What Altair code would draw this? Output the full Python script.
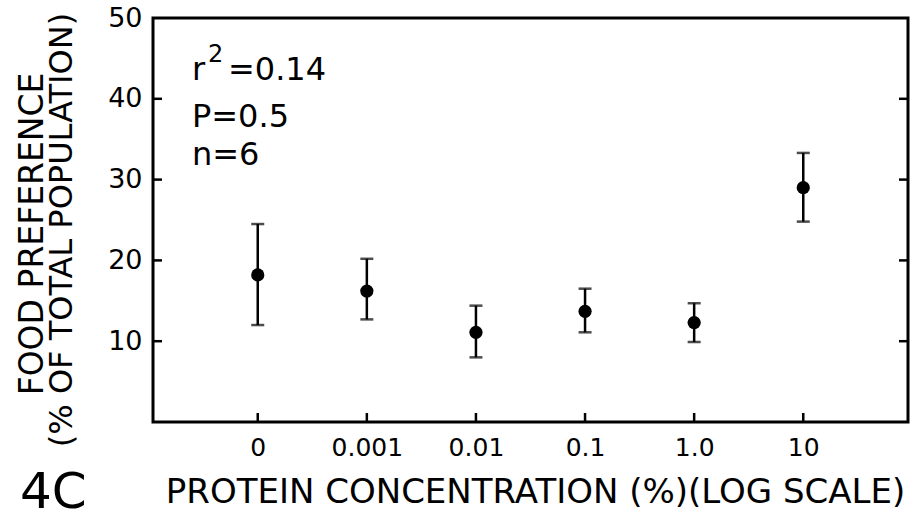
import altair as alt
import pandas as pd

# ---- data ----
conc = ["0", "0.001", "0.01", "0.1", "1.0", "10"]
mean = [18.2, 16.2, 11.1, 13.7, 12.3, 29.0]
upper = [24.5, 20.2, 14.4, 16.5, 14.7, 33.3]
lower = [12.0, 12.7, 8.0, 11.1, 9.9, 24.8]
y_tick_values = [10, 20, 30, 40]
y_label_values = [10, 20, 30, 40, 50]
y_title_lines = ["FOOD PREFERENCE", "(% OF TOTAL POPULATION)"]

df = pd.DataFrame({"conc": conc, "mean": mean, "upper": upper, "lower": lower})
ticks_df = pd.DataFrame({"v": y_tick_values})
one = pd.DataFrame({"k": [0]})

W, H = 755, 404
FONT = "DejaVu Sans"

x_axis = alt.Axis(
    title="PROTEIN CONCENTRATION (%)(LOG SCALE)",
    labelAngle=0, ticks=False, tickSize=0, domain=False, grid=False,
    labelFont=FONT, labelFontSize=25, labelPadding=13, labelColor="black",
    titleFont=FONT, titleFontSize=34, titleFontWeight="normal", titleColor="black",
    titleX=382, titleY=80, titleAlign="center", titleBaseline="alphabetic",
)
y_axis = alt.Axis(
    title=None,
    values=y_label_values, ticks=False, tickSize=0, domain=False, grid=False,
    labelFont=FONT, labelFontSize=27, labelPadding=11, labelColor="black",
)
x_scale = alt.Scale(type="point", padding=0.96)
y_scale = alt.Scale(domain=[0, 50], nice=False, zero=True)

def X(field="conc"):
    return alt.X(f"{field}:N", sort=conc, scale=x_scale, axis=x_axis)

def Y(field):
    return alt.Y(f"{field}:Q", scale=y_scale, axis=y_axis)

base = alt.Chart(df)

bars = base.mark_rule(color="black", strokeWidth=2.5).encode(
    x=X(), y=Y("lower"), y2="upper:Q"
)
caps = base.transform_fold(["upper", "lower"], as_=["which", "val"]).mark_tick(
    color="black", size=13, thickness=2.5, orient="horizontal"
).encode(x=X(), y=Y("val"))
points = base.mark_circle(color="black", opacity=1, size=175).encode(
    x=X(), y=Y("mean")
)

left_ticks = alt.Chart(ticks_df).mark_rule(color="black", strokeWidth=2.5).encode(
    y=Y("v"), x=alt.value(0), x2=alt.value(9)
)
right_ticks = alt.Chart(ticks_df).mark_rule(color="black", strokeWidth=2.5).encode(
    y=Y("v"), x=alt.value(W - 9), x2=alt.value(W)
)
bottom_ticks = base.mark_rule(color="black", strokeWidth=2.5).encode(
    x=X(), y=alt.value(H), y2=alt.value(H - 9)
)

def label(txt, px, py, size, align="left", angle=0):
    return alt.Chart(one).mark_text(
        font=FONT, fontSize=size, color="black", align=align,
        baseline="alphabetic", angle=angle
    ).encode(x=alt.value(px), y=alt.value(py), text=alt.value(txt))

texts = [
    label("r", 39, 62, 32),
    label("2", 55, 44, 24),
    label("=0.14", 75, 62, 32),
    label("P=0.5", 39, 109, 32),
    label("n=6", 39, 147, 32),
    label("4C", -133, 490, 50),
    label(y_title_lines[0], -110, 216, 33, align="center", angle=270),
    label(y_title_lines[1], -81, 212, 32, align="center", angle=270),
]

chart = alt.layer(
    bars, caps, points, left_ticks, right_ticks, bottom_ticks, *texts
).properties(
    width=W, height=H,
    autosize=alt.AutoSizeParams(type="none"),
    padding={"left": 153, "top": 18, "right": 4, "bottom": 100},
    background="white",
).configure_view(
    stroke="black", strokeWidth=3
)

chart.save("out.html", embed_options={"renderer": "svg", "actions": False})
